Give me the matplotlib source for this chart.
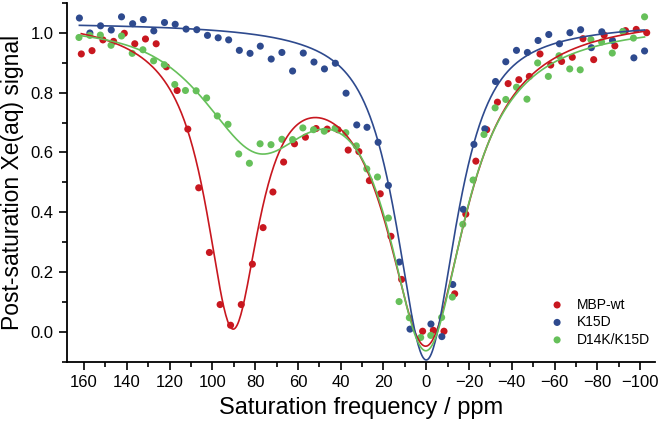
import numpy as np
import matplotlib
matplotlib.use('Agg')
import matplotlib.pyplot as plt

plt.rcParams['font.family'] = ['Liberation Sans', 'DejaVu Sans']

# measured points (ppm, normalised signal)
red_x = [161.3, 156.3, 151.2, 146.2, 141.2, 136.3, 131.3, 126.3, 121.5, 116.5, 111.5, 106.4,
         101.4, 96.4, 91.5, 86.5, 81.3, 76.3, 71.7, 66.7, 61.6, 56.5, 51.5, 46.3, 41.3, 36.5,
         31.5, 26.6, 21.5, 16.5, 11.5, 1.7, -3.3, -8.3, -13.3, -18.5, -23.2, -28.3, -33.3,
         -38.3, -43.3, -48.2, -53.2, -58.2, -63.3, -68.3, -73.3, -78.3, -83.2, -88.2, -93.2,
         -98.2, -103.1]
red_y = [0.929, 0.940, 0.976, 0.971, 0.998, 0.963, 0.979, 0.963, 0.886, 0.807, 0.678, 0.482,
         0.266, 0.092, 0.023, 0.092, 0.227, 0.349, 0.468, 0.568, 0.629, 0.651, 0.680, 0.678,
         0.676, 0.608, 0.603, 0.506, 0.462, 0.320, 0.176, 0.003, 0.006, 0.003, 0.128, 0.394,
         0.571, 0.676, 0.768, 0.830, 0.843, 0.854, 0.929, 0.892, 0.904, 0.918, 0.980, 0.910,
         0.992, 0.956, 1.007, 1.011, 1.000]

blue_x = [162.2, 157.3, 152.3, 147.3, 142.5, 137.3, 132.3, 127.4, 122.4, 117.4, 112.3, 107.3,
          102.3, 97.3, 92.4, 87.4, 82.4, 77.6, 72.5, 67.5, 62.5, 57.5, 52.5, 47.6, 42.5, 37.5,
          32.5, 27.7, 22.5, 17.7, 12.6, 7.6, -2.2, -7.3, -12.4, -17.3, -22.3, -27.4, -32.4,
          -37.2, -42.2, -47.3, -52.3, -57.3, -62.3, -67.2, -72.2, -77.2, -82.1, -87.1, -92.1,
          -97.1, -102.1]
blue_y = [1.049, 0.999, 1.023, 1.009, 1.053, 1.030, 1.044, 1.006, 1.034, 1.028, 1.012, 1.010,
          0.991, 0.983, 0.976, 0.941, 0.931, 0.955, 0.912, 0.934, 0.872, 0.932, 0.902, 0.879,
          0.898, 0.798, 0.692, 0.684, 0.634, 0.490, 0.234, 0.010, 0.027, -0.015, 0.159, 0.410,
          0.627, 0.679, 0.837, 0.903, 0.941, 0.934, 0.974, 0.994, 0.963, 1.000, 1.010, 0.950,
          1.003, 0.974, 1.004, 0.916, 0.939]

green_x = [162.4, 157.3, 152.4, 147.4, 142.5, 137.5, 132.5, 127.5, 122.5, 117.6, 112.6, 107.6,
           102.7, 97.7, 92.7, 87.7, 82.7, 77.7, 72.6, 67.5, 62.5, 57.7, 52.7, 47.7, 42.6, 37.6,
           32.7, 27.8, 22.8, 17.7, 12.7, 7.9, 2.6, -2.1, -7.2, -12.2, -17.1, -21.9, -27.0,
           -32.2, -37.2, -42.2, -47.1, -52.1, -57.1, -62.1, -67.1, -72.0, -77.0, -82.0, -87.0,
           -91.9, -96.9, -102.1]
green_y = [0.984, 0.991, 0.992, 0.958, 0.989, 0.931, 0.943, 0.906, 0.893, 0.827, 0.807, 0.806,
           0.782, 0.722, 0.694, 0.595, 0.564, 0.629, 0.626, 0.644, 0.643, 0.682, 0.676, 0.671,
           0.681, 0.666, 0.622, 0.545, 0.518, 0.381, 0.102, 0.048, -0.018, -0.011, 0.049, 0.117,
           0.360, 0.508, 0.660, 0.749, 0.777, 0.818, 0.778, 0.899, 0.854, 0.923, 0.879, 0.876,
           0.977, 0.969, 0.932, 1.004, 0.982, 1.053]

# fit parameters (pseudo-Voigt saturation dips below a baseline)
red_base = 1.063
red_center = [0.0, 90.5, 45.0]
red_hwhm = [23.0, 15.5, 29.4]
red_depth = [1.075, 0.981, 0.035]
red_eta = [1.0, 1.0, 0.0]

blue_base = 1.035
blue_center = [0.0]
blue_hwhm = [17.0]
blue_depth = [1.128]
blue_eta = [0.85]

green_base = 1.04
green_center = [0.0, 79.0]
green_hwhm = [22.0, 30.0]
green_depth = [1.069, 0.366]
green_eta = [1.0, 0.7]

labels = ['MBP-wt', 'K15D', 'D14K/K15D']
colors = ['#c8171f', '#2e4a8e', '#66c05a']


def fit_curve(x, base, centers, hwhms, depths, etas):
    y = np.full_like(x, base)
    for c, h, a, eta in zip(centers, hwhms, depths, etas):
        u = ((x - c) / h) ** 2
        y -= a * (eta / (1 + u) + (1 - eta) * np.exp(-np.log(2) * u))
    return y


series = [
    (red_x, red_y, (red_base, red_center, red_hwhm, red_depth, red_eta)),
    (blue_x, blue_y, (blue_base, blue_center, blue_hwhm, blue_depth, blue_eta)),
    (green_x, green_y, (green_base, green_center, green_hwhm, green_depth, green_eta)),
]

fig = plt.figure(figsize=(6.6, 4.3), dpi=100)
ax = fig.add_axes([0.1015, 0.158, 0.891, 0.8356])

for (xs, ys, params), lab, col in zip(series, labels, colors):
    ax.scatter(xs, ys, s=26, color=col, edgecolors='none', label=lab, zorder=2)
    xf = np.linspace(max(xs), min(xs), 600)
    ax.plot(xf, fit_curve(xf, *params), color=col, lw=1.2, zorder=3)

ax.set_xlim(168, -107)
ax.set_ylim(-0.1, 1.1)
ax.set_xticks(np.arange(160, -101, -20))
ax.set_xticks(np.arange(150, -101, -20), minor=True)
ax.set_yticks(np.arange(0, 1.01, 0.2))
ax.set_yticks(np.arange(-0.1, 1.1, 0.2), minor=True)
ax.yaxis.set_major_formatter(matplotlib.ticker.FormatStrFormatter('%.1f'))

for side in ['top', 'right']:
    ax.spines[side].set_visible(False)
for side in ['left', 'bottom']:
    ax.spines[side].set_linewidth(1.3)
ax.tick_params(which='major', direction='out', length=6, width=1.2, labelsize=12)
ax.tick_params(which='minor', direction='out', length=3.5, width=1.2)

ax.set_xlabel('Saturation frequency / ppm', fontsize=17, labelpad=5)
ax.set_ylabel('Post-saturation Xe(aq) signal', fontsize=16.5, labelpad=5)

ax.legend(loc='lower right', bbox_to_anchor=(1.005, 0.02), frameon=False, fontsize=10,
          handletextpad=0.9, handlelength=1.0, labelspacing=0.25, borderaxespad=0.2)

fig.savefig('out.png', dpi=100)
